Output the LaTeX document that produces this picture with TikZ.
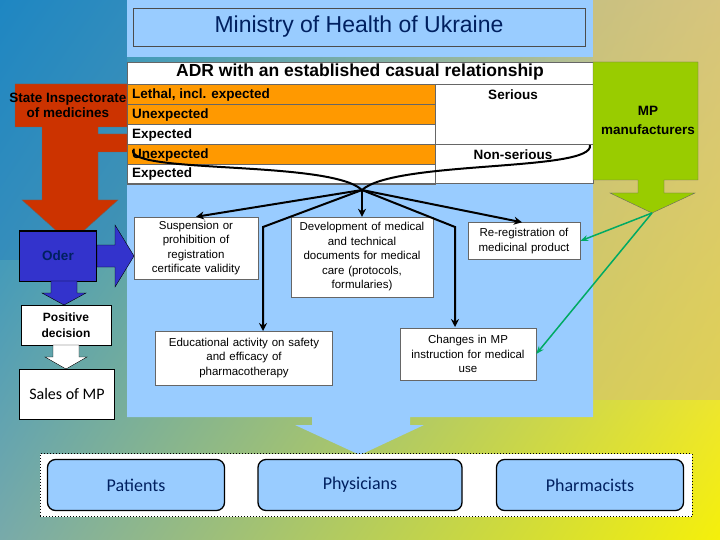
\documentclass[tikz,border=0pt]{standalone}
\usepackage{fontspec}
\setmainfont{Liberation Sans}
\newfontfamily\carl{Carlito}
\usetikzlibrary{arrows.meta,shadings}
\definecolor{lb}{RGB}{153,204,255}
\definecolor{org}{RGB}{255,153,0}
\definecolor{rd}{RGB}{204,51,0}
\definecolor{bl}{RGB}{51,51,204}
\definecolor{gr}{RGB}{153,204,0}
\definecolor{tx}{RGB}{0,32,96}
\definecolor{grl}{RGB}{0,170,100}
\definecolor{bgul}{RGB}{20,140,200}
\definecolor{bgur}{RGB}{215,200,150}
\definecolor{bgll}{RGB}{120,170,170}
\definecolor{bglr}{RGB}{245,240,10}
\definecolor{bgl}{RGB}{40,130,190}
\definecolor{bgr}{RGB}{215,195,110}
\tikzset{wbox/.style={draw=black!60,fill=white,align=center,font=\fontsize{11.5}{14.5}\selectfont,inner sep=1pt},
 arr/.style={-{Stealth[length=8pt,width=8pt]},line width=2pt},
 pbox/.style={draw=black,line width=1.3pt,rounded corners=8pt,fill=lb,font=\carl\fontsize{18}{20}\selectfont,text=tx}}
\begin{document}
\begin{tikzpicture}[x=1pt,y=-1pt]
\useasboundingbox (0,0) rectangle (720,540);
\shade[upper left=bgul,upper right=bgur,lower left=bgll,lower right=bglr] (0,0) rectangle (720,540);
\fill[bgl,opacity=.5] (0,0) rectangle (127,260);
\fill[bgr,opacity=.6] (593,0) rectangle (720,400);
% title
\fill[lb] (127,0) rectangle (593,57);
\node[draw=black!70,fill=lb,minimum width=452,minimum height=38,font=\fontsize{23}{25}\selectfont,text=tx] (title) at (359,27) {Ministry of Health of Ukraine};
% main panel with down arrow
\fill[lb] (127,183) -- (593,183) -- (593,417) -- (410,417) -- (410,425) -- (424,425) -- (360,455) -- (295,425) -- (312,425) -- (312,417) -- (127,417) -- cycle;
% table
\fill[white] (127,62) rectangle (593,183);
\node[font=\fontsize{17.5}{19}\selectfont\bfseries,text=black] (adr) at (360,72) {ADR with an established casual relationship};
\foreach \y/\c in {84/org,104/org,124/white,144/org,164/white}{
 \fill[\c] (127,\y) rectangle (435,\y+20);
 \draw[black!60] (127,\y) rectangle (435,\y+20);}
\draw[black!60] (127,62) rectangle (593,183);
\draw[black!60] (435,84) rectangle (593,144);
\draw[black!60] (127,84) -- (593,84);
\tikzset{rl/.style={anchor=west,font=\fontsize{13.5}{15}\selectfont\bfseries,inner sep=1pt}}
\node[rl] (r1) at (131,95) {Lethal, incl. expected};
\node[rl] (r2) at (131,115) {Unexpected};
\node[rl] (r3) at (131,135) {Expected};
\node[rl] (r4) at (131,155) {Unexpected};
\node[rl] (r5) at (131,174) {Expected};
\node[font=\fontsize{13.5}{15}\selectfont\bfseries] (ser) at (513,95) {Serious};
\node[font=\fontsize{13.5}{15}\selectfont\bfseries] (nser) at (513,155) {Non-serious};
% red arrow
\fill[rd,draw=black!60] (15,84) -- (127,84) -- (127,127) -- (98,127) -- (98,134) -- (127,134) -- (127,152) -- (98,152) -- (98,200) -- (118,200) -- (70,243) -- (22,200) -- (42,200) -- (42,127) -- (15,127) -- cycle;
\node[font=\fontsize{13.5}{15}\selectfont\bfseries,align=center,inner sep=0pt] (si) at (68,105) {State Inspectorate\\of medicines};
% green arrow
\fill[gr,draw=black!60] (593,62) -- (698,62) -- (698,180) -- (664,180) -- (664,193) -- (695,193) -- (652,213) -- (610,193) -- (638,193) -- (638,180) -- (593,180) -- cycle;
\node[font=\fontsize{13.5}{19}\selectfont\bfseries,align=center] (mpm) at (648,120) {MP\\manufacturers};
\coordinate (gt) at (652,213);
% left column
\node[draw=black,line width=1pt,fill=bl,minimum width=77,minimum height=50,font=\fontsize{13.5}{15}\selectfont\bfseries,text=tx] (oder) at (58,256) {Oder};
\fill[bl,draw=black] (97,245) -- (115,245) -- (115,225) -- (134,256) -- (115,287) -- (115,267) -- (97,267) -- cycle;
\fill[bl,draw=black] (51,281) -- (77,281) -- (77,293) -- (86,293) -- (64,305) -- (42,293) -- (51,293) -- cycle;
\node[draw=black,line width=1pt,fill=white,minimum width=90,minimum height=40,font=\fontsize{12}{16}\selectfont\bfseries,align=center,inner sep=1pt] (pos) at (66,325) {Positive\\decision};
\fill[white,draw=black] (53,345) -- (79,345) -- (79,357) -- (87,357) -- (66,369) -- (45,357) -- (53,357) -- cycle;
\node[draw=black,line width=1pt,fill=white,minimum width=95,minimum height=50,font=\carl\fontsize{16}{18}\selectfont] (sales) at (67,394) {Sales of MP};
% white boxes
\node[wbox,text width=122,minimum height=62] (susp) at (196,248) {Suspension or\\prohibition of\\registration\\certificate validity};
\node[wbox,text width=140,minimum height=80] (dev) at (362,257) {Development of medical\\and technical\\documents for medical\\care (protocols,\\formularies)};
\node[wbox,text width=110,minimum height=37] (rereg) at (524,241) {Re-registration of\\medicinal product};
\node[wbox,text width=175,minimum height=54] (edu) at (244,358) {Educational activity on safety\\and efficacy of\\pharmacotherapy};
\node[wbox,text width=134,minimum height=52] (chg) at (468,354) {Changes in MP\\instruction for medical\\use};
% brace and arrows
\coordinate (hub) at (362,190);
\draw[line width=2pt] (133,150) .. controls (128,174) and (330,160) .. (362,190) .. controls (395,160) and (595,172) .. (590,145);
\draw[arr] (hub) -- (susp.north);
\draw[arr] (hub) -- (dev.north);
\draw[arr] (hub) -- ([xshift=-2pt]rereg.north);
\draw[arr] (hub) -- (263,227) -- (263,331);
\draw[arr] (hub) -- (455,227) -- (455,327);
% green lines
\draw[grl,line width=1.5pt,-{Stealth[length=8pt]}] (gt) -- (rereg.east);
\draw[grl,line width=1.5pt,-{Stealth[length=8pt]}] (gt) -- (chg.east);
% bottom
\node[draw=black,dotted,line width=1pt,fill=white,minimum width=652,minimum height=63] (frame) at (366,485) {};
\node[pbox,minimum width=177,minimum height=51] (pat) at (136,485) {Patients};
\node[pbox,minimum width=204,minimum height=51] (phy) at (360,485) {Physicians};
\node[pbox,minimum width=187,minimum height=51] (pha) at (590,485) {Pharmacists};
\end{tikzpicture}
\end{document}
